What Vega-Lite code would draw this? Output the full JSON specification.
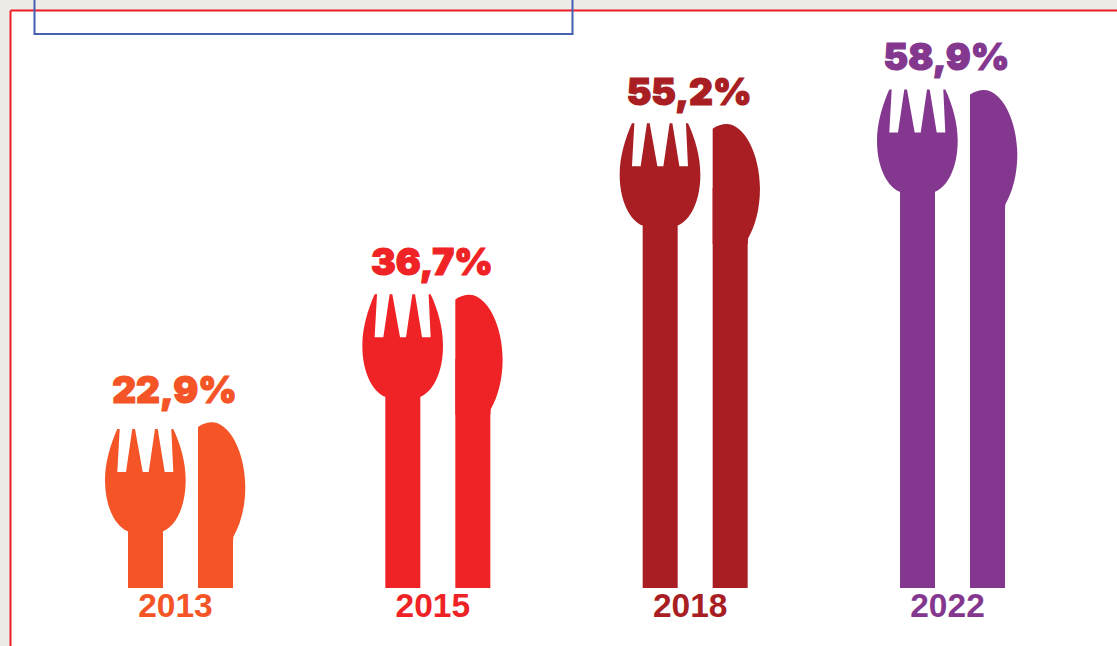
{
 "$schema":"https://vega.github.io/schema/vega-lite/v6.json",
 "width":1107,"height":636,
 "autosize":{"type":"none"},
 "padding":{"left":10,"top":10,"right":0,"bottom":0},
 "background":"#efece7",
 "view":{"fill":"#ffffff","stroke":null},
 "data":{"values":[
  {"year":"2013","value":22.9,"fork":22.16,"label":"22,9%"},
  {"year":"2015","value":36.7,"fork":36.75,"label":"36,7%"},
  {"year":"2018","value":55.2,"fork":55.3,"label":"55,2%"},
  {"year":"2022","value":58.9,"fork":58.95,"label":"58,9%"}
 ]},
 "encoding":{
  "x":{"field":"year","type":"nominal","title":null,
   "scale":{"type":"band","paddingInner":0,"paddingOuter":0.1509,"align":0.5386},
   "axis":{"orient":"top","labels":false,"ticks":false,"grid":false,"domain":true,"domainColor":"#ee1c25","domainWidth":2,"title":null}},
  "y":{"field":"value","type":"quantitative","title":null,
   "scale":{"domain":[-1.347,67.558],"zero":false,"nice":false},
   "axis":{"orient":"left","labels":false,"ticks":false,"grid":false,"domain":true,"domainColor":"#ee1c25","domainWidth":2,"title":null}},
  "color":{"field":"year","type":"nominal","legend":null,
   "scale":{"domain":["2013","2015","2018","2022"],"range":["#f45426","#ef2325","#a81e22","#84378f"]}}
 },
 "layer":[
  {"mark":{"type":"bar","size":35,"xOffset":-35,"yOffset":64},"encoding":{"y2":{"datum":4.93}}},
  {"mark":{"type":"bar","size":35,"xOffset":35,"yOffset":64},"encoding":{"y2":{"datum":4.93}}},
  {"mark":{"type":"point","filled":true,"opacity":1,"size":4,"xOffset":-35,
    "shape":"M-28.2 0 L-25.8 0 L-28.2 43 L-19.5 43 L-13.2 0 L-10.5 0 L-2.8 43 L3.2 43 L9.5 0 L12.2 0 L19.2 43 L27.8 43 L25.8 0 L27.8 0 C35 15.3 40.2 33.3 40.2 51.3 C40.2 78.3 30 97.3 17.5 102.3 L-17.8 102.3 C-30 97.3 -40.5 78.3 -40.5 51.3 C-40.5 33.3 -35 15.3 -28.2 0 Z"},
   "encoding":{"y":{"field":"fork","type":"quantitative"}}},
  {"mark":{"type":"point","filled":true,"opacity":1,"size":4,"xOffset":35,
    "shape":"M-17.5 4.7 C-13 1.5 -8 0 -3.8 0 C14 0 29.8 30 29.8 64.7 C29.8 85 25 102 17.8 114.7 L17.5 120 L-17.5 120 Z"}},
  {"mark":{"type":"text","font":"Inter","fontWeight":900,"fontSize":37,"baseline":"alphabetic","align":"center","dx":-6,"dy":-19.5,"strokeWidth":1.2,"strokeOpacity":1},
   "encoding":{"text":{"field":"label"},"stroke":{"field":"year","type":"nominal","legend":null,"scale":{"domain":["2013","2015","2018","2022"],"range":["#f45426","#ef2325","#a81e22","#84378f"]}}}},
  {"mark":{"type":"text","font":"Liberation Sans","fontWeight":"bold","fontSize":33.5,"baseline":"alphabetic","align":"center","dx":-5,"dy":29},
   "encoding":{"text":{"field":"year"},"y":{"datum":4.93}}},
  {"data":{"values":[{"note":"frame"}]},
   "mark":{"type":"rect","fill":null,"stroke":"#4560b0","strokeWidth":2},
   "encoding":{"x":{"value":24.5},"x2":{"value":562.5},"y":{"value":-30},"y2":{"value":24},"color":{"value":null}}}
 ]
}
